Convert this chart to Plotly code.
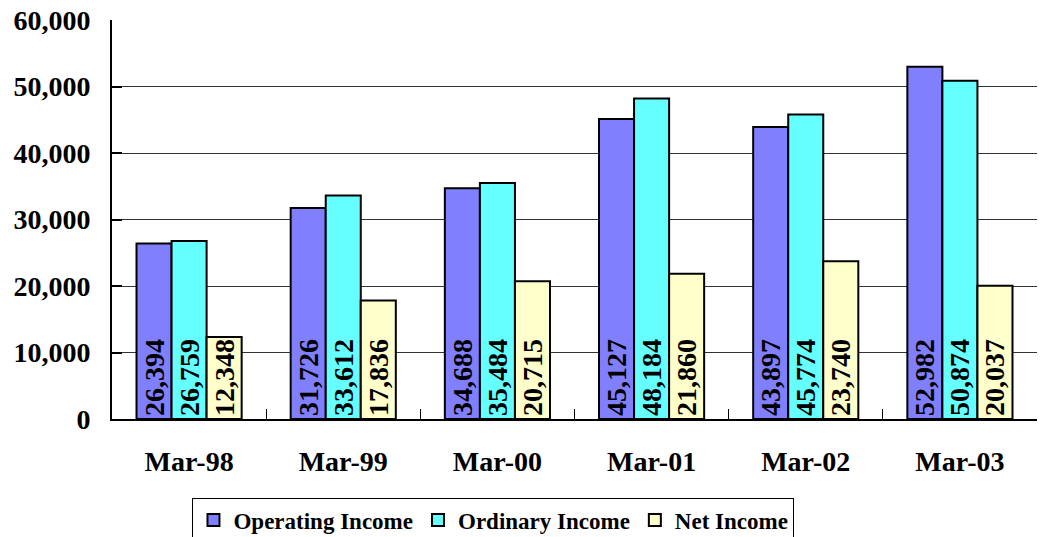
import plotly.graph_objects as go

categories = ["Mar-98", "Mar-99", "Mar-00", "Mar-01", "Mar-02", "Mar-03"]
operating_income = [26394, 31726, 34688, 45127, 43897, 52982]
ordinary_income = [26759, 33612, 35484, 48184, 45774, 50874]
net_income = [12348, 17836, 20715, 21860, 23740, 20037]
series_names = ["Operating Income", "Ordinary Income", "Net Income"]
series_colors = ["#8080FF", "#66FFFF", "#FFFFCC"]
y_ticks = [0, 10000, 20000, 30000, 40000, 50000, 60000]

FONT = "Liberation Serif, Times New Roman, serif"

fig = go.Figure()
for name, vals, color in zip(series_names, [operating_income, ordinary_income, net_income], series_colors):
    fig.add_trace(go.Bar(
        name=name, x=categories, y=vals,
        text=[f"{v:,}" for v in vals],
        textposition="inside", insidetextanchor="start", textangle=-90,
        constraintext="none", cliponaxis=False,
        textfont=dict(family=FONT, size=28, color="black", weight="bold"),
        marker=dict(color=color, line=dict(color="black", width=2)),
    ))

fig.update_layout(
    width=1041, height=537,
    margin=dict(l=112, r=4, t=20, b=118, autoexpand=False),
    paper_bgcolor="white", plot_bgcolor="white",
    barmode="group", bargap=0.318, bargroupgap=0,
    font=dict(family=FONT, color="black"),
    showlegend=True,
    legend=dict(
        orientation="h", x=0.087, xanchor="left", y=-0.197, yanchor="top",
        font=dict(family=FONT, size=23, color="black", weight="bold"),
        bordercolor="black", borderwidth=1, bgcolor="white",
        itemwidth=30, tracegroupgap=0,
    ),
    xaxis=dict(
        type="category", showline=True, linecolor="black", linewidth=2,
        ticks="inside", ticklen=10, tickcolor="black", tickwidth=1,
        tickson="boundaries", showgrid=False, automargin=False,
        tickfont=dict(family=FONT, size=28, color="black", weight="bold"),
        ticklabelstandoff=16,
    ),
    yaxis=dict(
        range=[0, 60000], tickvals=y_ticks, tickformat=",",
        showline=True, linecolor="black", linewidth=2,
        ticks="inside", ticklen=10, tickcolor="black", tickwidth=2,
        showgrid=True, gridcolor="#333333", gridwidth=1,
        zeroline=False, automargin=False,
        tickfont=dict(family=FONT, size=28, color="black", weight="bold"),
        ticklabelstandoff=14,
    ),
)

fig.write_html(
    "out.html",
    config={"displayModeBar": False},
    post_script="document.body.style.margin='0';document.body.style.overflow='hidden';",
)
